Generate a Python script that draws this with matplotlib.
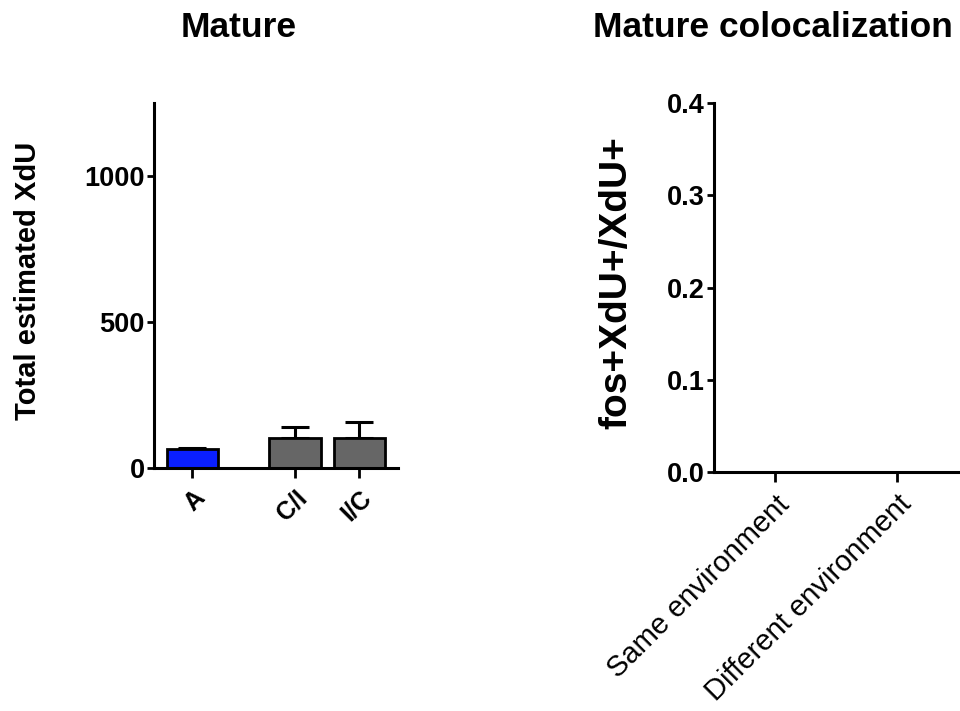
import matplotlib
matplotlib.use("Agg")
import matplotlib.pyplot as plt
import numpy as np

plt.rcParams["font.family"] = ["Liberation Sans", "DejaVu Sans"]

# Left panel: Mature
groups = ["A", "C/I", "I/C"]
xdu_mean = [65, 102, 102]
xdu_err = [3, 37, 54]
bar_colors = ["#0a1fff", "#666666", "#666666"]

# Right panel: Mature colocalization (no data plotted)
env_labels = ["Same environment", "Different environment"]
coloc_ticks = [0.0, 0.1, 0.2, 0.3, 0.4]

fig = plt.figure(figsize=(9.6, 7.11), dpi=100)

ax1 = fig.add_axes([0.1604, 0.3418, 0.254, 0.5134])
ax2 = fig.add_axes([0.7438, 0.336, 0.254, 0.519])

# gap between the first bar and the rest
xpos = np.arange(len(groups)) + np.array([0, 0.6, 0.6])
ax1.bar(xpos, xdu_mean, width=0.8, color=bar_colors, edgecolor="black",
        linewidth=2, zorder=2)
ax1.errorbar(xpos, xdu_mean, yerr=[np.zeros(len(xdu_err)), xdu_err],
             fmt="none", ecolor="black", elinewidth=2.2, capsize=10,
             capthick=2.2, zorder=1)
ax1.set_xlim(-0.6, 3.2)
ax1.set_ylim(0, 1250)
ax1.set_yticks([0, 500, 1000])
ax1.set_xticks(xpos)
ax1.set_xticklabels(groups, rotation=45, ha="right", rotation_mode="anchor",
                    fontweight="bold", fontsize=18)

ax2.set_xlim(-0.5, 1.5)
ax2.set_ylim(0, 0.4)
ax2.set_yticks(coloc_ticks)
ax2.set_yticklabels([f"{t:.1f}" for t in coloc_ticks])
ax2.set_xticks(np.arange(len(env_labels)))
ax2.set_xticklabels(env_labels, rotation=45, ha="right",
                    rotation_mode="anchor", fontsize=21)

for ax in (ax1, ax2):
    for side in ("top", "right"):
        ax.spines[side].set_visible(False)
    for side in ("left", "bottom"):
        ax.spines[side].set_linewidth(2.2)
    ax.tick_params(axis="y", width=2, length=5, labelsize=19.5, pad=1.5)
    ax.tick_params(axis="x", width=2, length=7, pad=6)
    for lbl in ax.get_yticklabels():
        lbl.set_fontweight("bold")

fig.text(0.249, 0.961, "Mature", ha="center", va="center",
         fontsize=25.5, fontweight="bold")
fig.text(0.805, 0.961, "Mature colocalization", ha="center", va="center",
         fontsize=25.5, fontweight="bold")
fig.text(0.029, 0.605, "Total estimated XdU", ha="center", va="center",
         rotation=90, fontsize=21, fontweight="bold")
fig.text(0.642, 0.603, "fos+XdU+/XdU+", ha="center", va="center",
         rotation=90, fontsize=28, fontweight="bold")

plt.savefig("out.png", dpi=100)
plt.close()
